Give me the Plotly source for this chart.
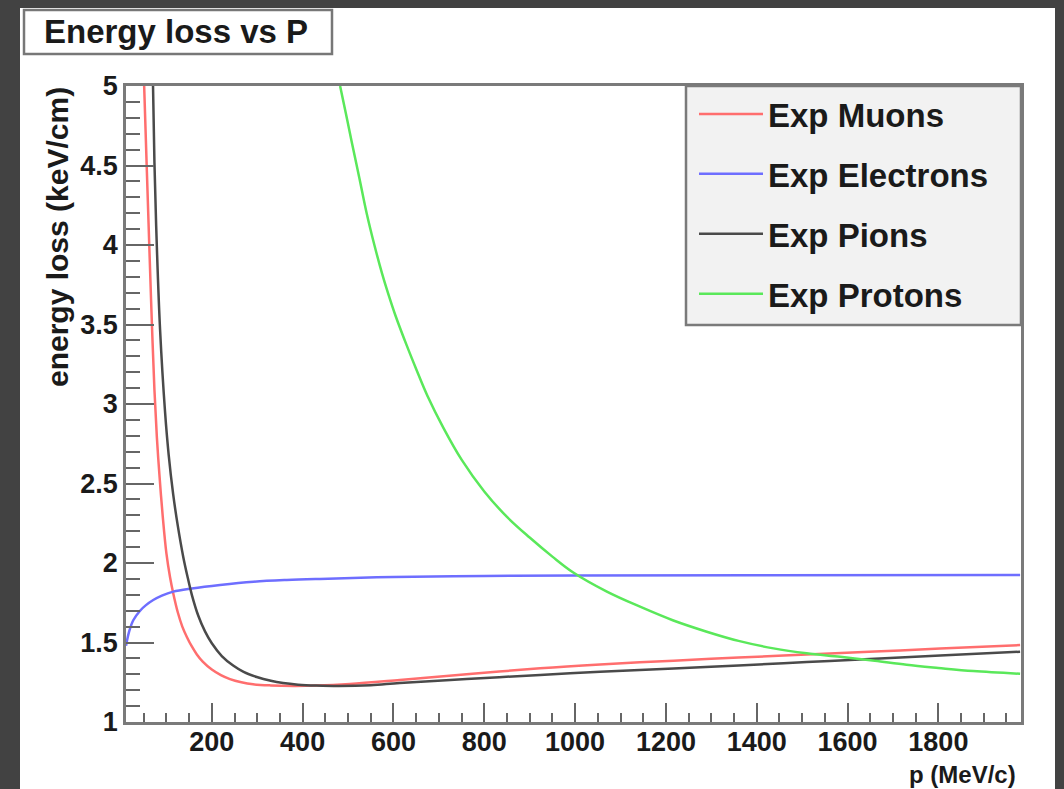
import plotly.graph_objects as go

# ---- data ----
muon_p = [51, 57, 62.6, 67.8, 73.6, 79, 84.6, 92, 100, 108, 115, 125, 135, 145, 156, 167, 180,
          200, 220, 240, 265, 291, 330, 380, 430, 504, 614, 761, 923, 1055, 1217, 1360, 1510,
          1660, 1804, 1980]
muon_e = [5.0, 4.46, 3.967, 3.525, 3.09, 2.79, 2.555, 2.29, 2.06, 1.91, 1.81, 1.69, 1.60, 1.535, 1.475,
          1.425, 1.38, 1.33, 1.295, 1.27, 1.25, 1.237, 1.23, 1.227, 1.229, 1.239, 1.264, 1.30, 1.338,
          1.362, 1.386, 1.405, 1.424, 1.443, 1.462, 1.484]

elec_p = [11, 18, 27, 42, 55, 71, 90, 115, 156, 218, 292, 365, 438, 600, 800, 1000, 1400, 1980]
elec_e = [1.48, 1.57, 1.64, 1.70, 1.735, 1.767, 1.795, 1.82, 1.84, 1.862, 1.882, 1.893, 1.90, 1.912,
          1.918, 1.921, 1.923, 1.924]

pion_p = [70.5, 73.6, 78.8, 86, 97, 105, 115, 125, 137, 146, 156, 170, 185, 200, 222, 247, 270, 299,
          330, 357, 390, 430, 480, 550, 614, 761, 923, 1055, 1217, 1360, 1510, 1660, 1804, 1980]
pion_e = [5.0, 4.52, 4.0, 3.47, 2.95, 2.68, 2.43, 2.235, 2.04, 1.92, 1.80, 1.67, 1.57, 1.495, 1.415,
          1.355, 1.315, 1.283, 1.259, 1.245, 1.235, 1.229, 1.226, 1.231, 1.245, 1.270, 1.296, 1.316,
          1.336, 1.356, 1.377, 1.398, 1.418, 1.442]

prot_p = [482.5, 495, 508, 525, 541, 558, 575, 590, 604, 629, 650, 675, 710, 750, 800, 850, 900, 950,
          996, 1070, 1143, 1215, 1290, 1360, 1437, 1510, 1584, 1660, 1730, 1800, 1877, 1980]
prot_e = [5.0, 4.83, 4.65, 4.42, 4.20, 4.0, 3.82, 3.68, 3.56, 3.37, 3.22, 3.05, 2.85, 2.65, 2.45, 2.29,
          2.16, 2.04, 1.94, 1.82, 1.725, 1.64, 1.568, 1.51, 1.463, 1.432, 1.41, 1.385, 1.36, 1.34,
          1.32, 1.303]

series_names = ["Exp Muons", "Exp Electrons", "Exp Pions", "Exp Protons"]
series_colors = ["#ff6e6e", "#6e6eff", "#4a4a4a", "#5ae85a"]

x_range = [11, 1982]
y_range = [1, 5]

# ---- figure geometry (pixels) ----
W, H = 1064, 789
L, R, T, B = 126, 1021, 86, 722


def px(x):
    return (x - L) / (R - L)


def py(y):
    return (B - y) / (B - T)


FONT = "Liberation Sans, Arial, Helvetica, sans-serif"

fig = go.Figure()
data = [(muon_p, muon_e), (elec_p, elec_e), (pion_p, pion_e), (prot_p, prot_e)]
for (xs, ys), name, col in zip(data, series_names, series_colors):
    fig.add_trace(go.Scatter(x=xs, y=ys, mode="lines", name=name, legendgroup=name,
                             line=dict(color=col, width=2.5, shape="spline", smoothing=1.0)))

axis_common = dict(showline=True, linecolor="#7a7a7a", linewidth=2.5, mirror=True,
                   showgrid=False, zeroline=False, ticks="inside", tickcolor="#666",
                   tickwidth=2, tickfont=dict(family=FONT, size=27, color="#1a1a1a", weight="bold"))

fig.update_xaxes(range=x_range, tick0=0, dtick=200, ticklen=19, ticklabelstandoff=-6,
                 minor=dict(dtick=50, tick0=0, ticks="inside", ticklen=9, tickcolor="#666", tickwidth=2),
                 **axis_common)
fig.update_yaxes(range=y_range, tick0=1, dtick=0.5, ticklen=28,
                 minor=dict(dtick=0.1, tick0=1, ticks="inside", ticklen=14, tickcolor="#666", tickwidth=2),
                 **axis_common)

shapes = [
    # white canvas inside the dark frame
    dict(type="rect", xref="paper", yref="paper", x0=px(20), x1=px(1055), y0=py(800), y1=py(8),
         fillcolor="white", line=dict(width=0), layer="below"),
    # title box
    dict(type="rect", xref="paper", yref="paper", x0=px(24), x1=px(332), y0=py(54), y1=py(10),
         fillcolor="white", line=dict(color="#777", width=2.5), layer="above"),
    # legend box
    dict(type="rect", xref="paper", yref="paper", x0=px(686), x1=px(1021), y0=py(325), y1=py(86),
         fillcolor="#f2f2f2", line=dict(color="#7a7a7a", width=2.5), layer="above"),
]

annotations = [
    dict(text="Energy loss vs P", xref="paper", yref="paper", x=px(42), y=py(32),
         xanchor="left", yanchor="middle", showarrow=False,
         font=dict(family=FONT, size=33, color="#1a1a1a", weight="bold")),
    dict(text="p (MeV/c)", xref="paper", yref="paper", x=px(1018), y=py(774),
         xanchor="right", yanchor="middle", showarrow=False,
         font=dict(family=FONT, size=24, color="#1a1a1a", weight="bold")),
    dict(text="energy loss (keV/cm)", xref="paper", yref="paper", x=px(57), y=py(85),
         xanchor="center", yanchor="top", textangle=-90, showarrow=False,
         font=dict(family=FONT, size=30, color="#1a1a1a", weight="bold")),
]

fig.update_layout(
    width=W, height=H,
    margin=dict(l=L, r=W - R, t=T, b=H - B, pad=0),
    paper_bgcolor="#424242",
    plot_bgcolor="white",
    shapes=shapes,
    annotations=annotations,
    showlegend=True,
    legend=dict(x=px(694), y=py(86), xanchor="left", yanchor="top",
                bgcolor="rgba(0,0,0,0)", borderwidth=0, itemwidth=64,
                tracegroupgap=14,
                font=dict(family=FONT, size=33, color="#1a1a1a", weight="bold")),
)

fig.write_html("out.html")
